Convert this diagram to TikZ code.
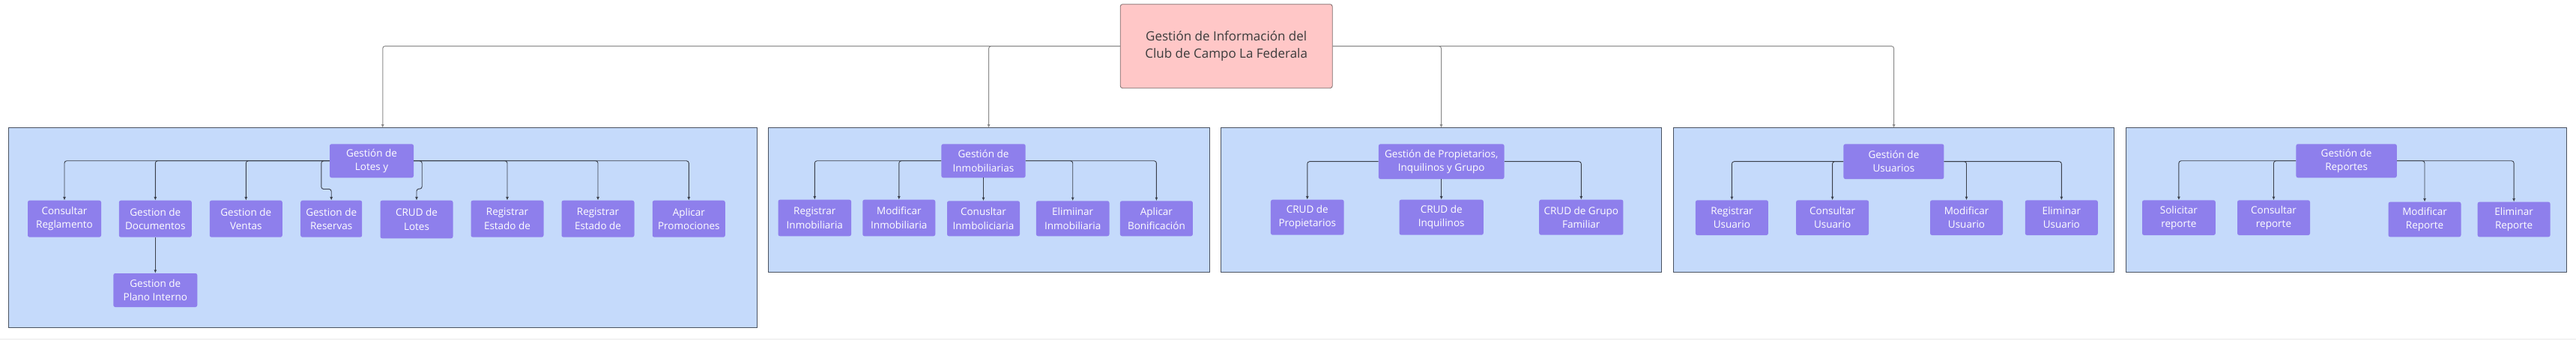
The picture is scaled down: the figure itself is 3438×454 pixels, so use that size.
\documentclass[tikz,border=0pt]{standalone}
\usepackage{fontspec}
\setmainfont{Open Sans}
\usetikzlibrary{arrows.meta}

\definecolor{groupfill}{HTML}{C5DAFB}
\definecolor{groupline}{HTML}{4A5260}
\definecolor{taskfill}{HTML}{8E7FEC}
\definecolor{rootfill}{HTML}{FFC7C7}
\definecolor{rootline}{HTML}{7A6A6A}
\definecolor{rootext}{HTML}{3B3B3B}
\definecolor{linkcolor}{HTML}{3A3F4A}
\definecolor{toplinkcolor}{HTML}{8A8A8A}
\definecolor{stripgray}{HTML}{F2F2F2}

\begin{document}
\begin{tikzpicture}[x=1pt, y=-1pt,
    group/.style={draw=groupline, fill=groupfill, line width=1pt, inner sep=0pt, outer sep=0pt, anchor=north west},
    task/.style={fill=taskfill, rounded corners=2.5pt, text=white, align=center, inner sep=1pt,
        minimum width=97pt, minimum height=48pt, font=\fontsize{13.5}{18.3}\selectfont},
    rootbox/.style={draw=rootline, fill=rootfill, rounded corners=3pt, text=rootext, align=center,
        line width=0.8pt, font=\fontsize{17}{23}\selectfont},
    link/.style={draw=linkcolor, line width=0.9pt, rounded corners=3pt, -{Latex[length=4.5pt,width=4pt]}},
    toplink/.style={draw=toplinkcolor, line width=1pt, rounded corners=3pt, -{Latex[length=4.5pt,width=4pt]}}]

    \useasboundingbox (0,0) rectangle (3438,454);
    \fill[stripgray] (0,451.5) rectangle (3438,454);

    % root
    \node[rootbox, minimum width=283pt, minimum height=112pt] (root) at (1636.7,61.7)
        {Gestión de Información del\\Club de Campo La Federala};

    % group boxes
    \node[group, minimum width=998.5pt, minimum height=267pt] (lotesgrp) at (11.5,170.7) {};
    \node[group, minimum width=589.2pt, minimum height=192.6pt] (inmogrp) at (1025,170.7) {};
    \node[group, minimum width=588.8pt, minimum height=192.6pt] (propgrp) at (1629.1,170.7) {};
    \node[group, minimum width=588.4pt, minimum height=192.6pt] (usugrp) at (2233.4,170.7) {};
    \node[group, minimum width=588.5pt, minimum height=192.6pt] (repgrp) at (2837.3,170.7) {};

    \draw[toplink] (root.west) -| (lotesgrp.north);
    \draw[toplink] (root.west) -| (inmogrp.north);
    \draw[toplink] (root.east) -| (propgrp.north);
    \draw[toplink] (root.east) -| (usugrp.north);

    % lotes
    \node[task, minimum width=112pt, minimum height=45pt] (lotes) at (496,214.8) {Gestión de\\Lotes y};
    \node[task, minimum width=98pt, minimum height=49pt] (reglamento) at (86,292.2) {Consultar\\Reglamento};
    \node[task, minimum height=49pt] (documentos) at (207.3,292.2) {Gestion de\\Documentos};
    \node[task, minimum height=49pt] (ventas) at (328.3,292.2) {Gestion de\\Ventas};
    \node[task, minimum width=82pt, minimum height=49pt] (reservas) at (442.2,292.2) {Gestion de\\Reservas};
    \node[task, minimum height=50.6pt] (crudlotes) at (556,293) {CRUD de\\Lotes};
    \node[task, minimum height=49pt] (estado1) at (677,292.2) {Registrar\\Estado de};
    \node[task, minimum height=49pt] (estado2) at (798,292.2) {Registrar\\Estado de};
    \node[task, minimum height=49pt] (promos) at (919.3,292.2) {Aplicar\\Promociones};
    \node[task, minimum width=112pt, minimum height=45pt] (plano) at (207.3,387.5) {Gestion de\\Plano Interno};

    \draw[link] (lotes.west) -| (reglamento.north);
    \draw[link] (lotes.west) -| (documentos.north);
    \draw[link] (lotes.west) -| (ventas.north);
    \draw[link] (lotes.west) -- ++(-11,0) |- ([yshift=15pt]reservas.north) -- (reservas.north);
    \draw[link] (lotes.east) -- ++(11,0) |- ([yshift=15.3pt]crudlotes.north) -- (crudlotes.north);
    \draw[link] (lotes.east) -| (estado1.north);
    \draw[link] (lotes.east) -| (estado2.north);
    \draw[link] (lotes.east) -| (promos.north);
    \draw[link] (documentos.south) -- (plano.north);

    % inmobiliarias
    \node[task, minimum width=112.3pt, minimum height=45pt] (inmo) at (1312.5,214.8) {Gestión de\\Inmobiliarias};
    \node[task, minimum width=97.6pt, minimum height=48.6pt] (reginmo) at (1087.3,291) {Registrar\\Inmobiliaria};
    \node[task, minimum height=48.6pt] (modinmo) at (1199.8,291) {Modificar\\Inmobiliaria};
    \node[task, minimum height=47pt] (consinmo) at (1312.5,291.8) {Conusltar\\Inmboliciaria};
    \node[task, minimum width=97.6pt, minimum height=47pt] (eliminmo) at (1431.7,291.8) {Elimiinar\\Inmobiliaria};
    \node[task, minimum height=47pt] (bonif) at (1543.4,291.8) {Aplicar\\Bonificación};

    \draw[link] (inmo.west) -| (reginmo.north);
    \draw[link] (inmo.west) -| (modinmo.north);
    \draw[link] (inmo.south) -- (consinmo.north);
    \draw[link] (inmo.east) -| (eliminmo.north);
    \draw[link] (inmo.east) -| (bonif.north);

    % propietarios
    \node[task, minimum width=167.7pt, minimum height=46.7pt] (prop) at (1923.7,215.7) {Gestión de Propietarios,\\Inquilinos y Grupo};
    \node[task, minimum width=97.7pt, minimum height=47pt] (crudprop) at (1744.8,290.2) {CRUD de\\Propietarios};
    \node[task, minimum width=112.3pt, minimum height=47pt] (crudinq) at (1923.7,290.2) {CRUD de\\Inquilinos};
    \node[task, minimum width=112.3pt, minimum height=47pt] (crudfam) at (2110.3,290.2) {CRUD de Grupo\\Familiar};

    \draw[link] (prop.west) -| (crudprop.north);
    \draw[link] (prop.south) -- (crudinq.north);
    \draw[link] (prop.east) -| (crudfam.north);

    % usuarios
    \node[task, minimum width=134pt, minimum height=46.7pt] (usu) at (2527.4,215.7) {Gestión de\\Usuarios};
    \node[task, minimum height=46.7pt] (regusu) at (2311.4,290.7) {Registrar\\Usuario};
    \node[task, minimum height=46.7pt] (consusu) at (2445.6,290.7) {Consultar\\Usuario};
    \node[task, minimum height=46.7pt] (modusu) at (2624.5,290.7) {Modificar\\Usuario};
    \node[task, minimum height=46.7pt] (elimusu) at (2751.3,290.7) {Eliminar\\Usuario};

    \draw[link] (usu.west) -| (regusu.north);
    \draw[link] (usu.west) -| (consusu.north);
    \draw[link] (usu.east) -| (modusu.north);
    \draw[link] (usu.east) -| (elimusu.north);

    % reportes
    \node[task, minimum width=134.4pt, minimum height=45pt] (rep) at (3131.6,214.8) {Gestión de\\Reportes};
    \node[task, minimum width=97.8pt, minimum height=46.7pt] (solrep) at (2907.9,290.7) {Solicitar\\reporte};
    \node[task, minimum height=46.7pt] (consrep) at (3034.5,290.7) {Consultar\\reporte};
    \node[task, minimum height=46.7pt] (modrep) at (3236,293) {Modificar\\Reporte};
    \node[task, minimum height=46.7pt] (elimrep) at (3355.1,293) {Eliminar\\Reporte};

    \draw[link] (rep.west) -| (solrep.north);
    \draw[link] (rep.west) -| (consrep.north);
    \draw[link] (rep.east) -| (modrep.north);
    \draw[link] (rep.east) -| (elimrep.north);
\end{tikzpicture}
\end{document}
